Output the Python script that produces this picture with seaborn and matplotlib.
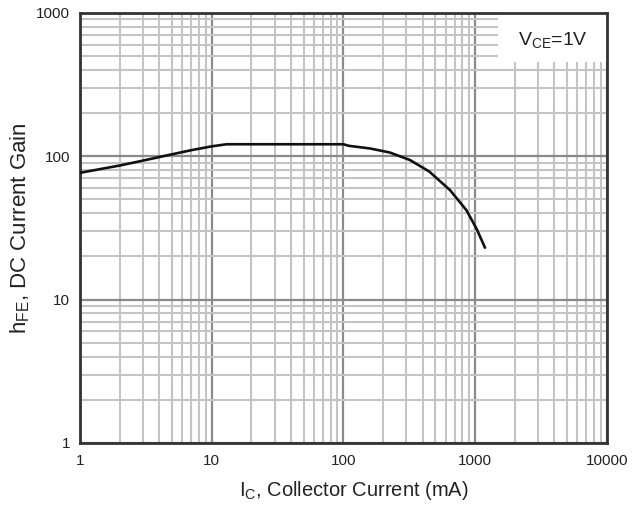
import numpy as np
import pandas as pd
import matplotlib
matplotlib.use('Agg')
import matplotlib.pyplot as plt
import seaborn as sns
from matplotlib.patches import Rectangle

# curve
ic_ma = [1, 2, 3, 5, 7, 10, 13, 50, 100, 110, 160, 225, 320, 450, 645, 860, 1030, 1190]
hfe = [76.5, 86, 93, 103, 110, 117, 121, 121, 121, 118, 113, 106, 94, 78, 58, 42, 31, 23]

x_ticks = [1, 10, 100, 1000, 10000]
x_labels = ['1', '10', '100', '1000', '10000']
y_ticks = [1, 10, 100, 1000]
y_labels = ['1', '10', '100', '1000']

df = pd.DataFrame({'ic': ic_ma, 'hfe': hfe})

sns.set_style('white')
plt.rcParams['font.family'] = ['Liberation Sans', 'DejaVu Sans']
plt.rcParams['mathtext.fontset'] = 'custom'
plt.rcParams['mathtext.rm'] = 'Liberation Sans'
plt.rcParams['mathtext.default'] = 'regular'

fig = plt.figure(figsize=(6.41, 5.08), dpi=100)
ax = fig.add_axes([0.1248, 0.128, 0.8217, 0.847])

sns.lineplot(data=df, x='ic', y='hfe', ax=ax, color='#111111', linewidth=1.9, zorder=3)

ax.set_xscale('log')
ax.set_yscale('log')
ax.set_xlim(1, 10000)
ax.set_ylim(1, 1000)

ax.set_xticks(x_ticks)
ax.set_xticklabels(x_labels)
ax.set_yticks(y_ticks)
ax.set_yticklabels(y_labels)
ax.tick_params(which='both', length=0, labelsize=11, colors='#222222')
ax.tick_params(axis='x', pad=8)
ax.tick_params(axis='y', pad=7)

# grid: decades darker, sub-decades lighter
ax.set_axisbelow(True)
ax.grid(which='major', color='#8a8a8a', linewidth=1.6)
ax.grid(which='minor', color='#c4c4c4', linewidth=1.5)

for sp in ax.spines.values():
    sp.set_color('#333333')
    sp.set_linewidth(2)

# white box behind the condition label
ax.add_patch(Rectangle((0.794, 0.886), 0.206, 0.114, transform=ax.transAxes,
                       facecolor='white', edgecolor='none', zorder=1))
ax.text(0.897, 0.937, r'V$_{CE}$=1V', transform=ax.transAxes,
        ha='center', va='center', fontsize=14, color='#222222', zorder=4)

ax.set_xlabel(r'I$_{C}$, Collector Current (mA)', fontsize=14.5, color='#222222', labelpad=8)
ax.xaxis.label.set_x(0.52)
ax.set_ylabel(r'h$_{FE}$, DC Current Gain', fontsize=16, color='#222222', labelpad=3)

fig.savefig('out.png', dpi=100, facecolor='white')
plt.close(fig)
